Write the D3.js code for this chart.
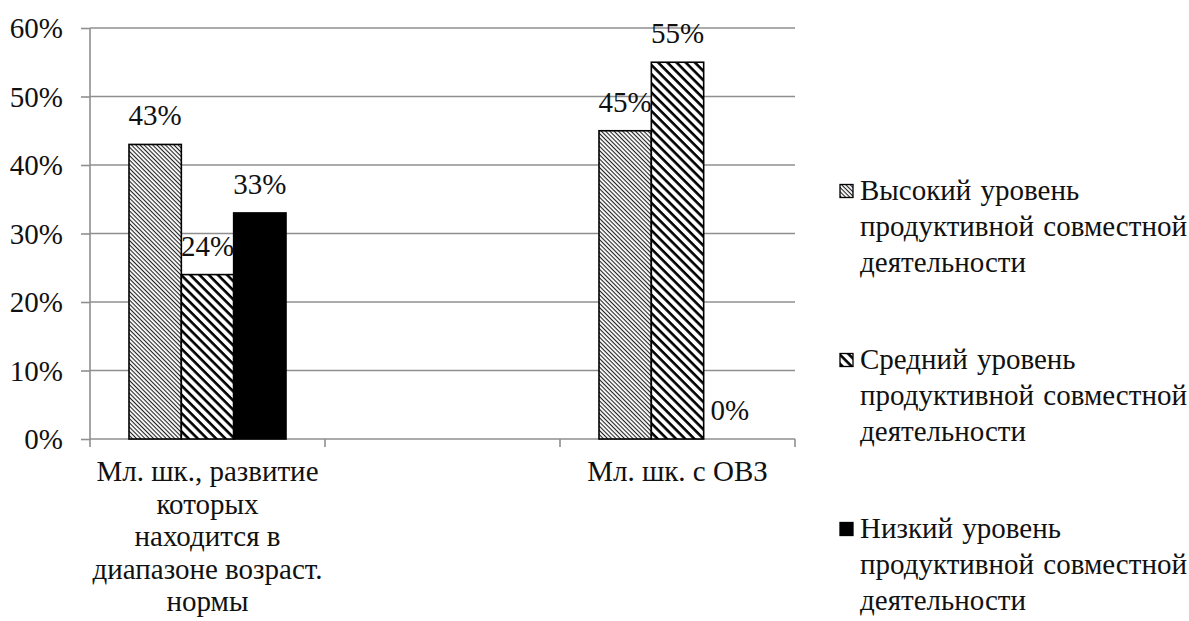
<!DOCTYPE html>
<html><head><meta charset="utf-8">
<script src="https://cdn.jsdelivr.net/npm/d3@7"></script>
<style>
html,body{margin:0;padding:0;background:#fff;}
svg{display:block;}
svg text, svg tspan{font-family:'Liberation Serif', Tinos, 'Times New Roman', serif !important;}
</style>
</head><body>
<svg id="chart" width="1189" height="621"></svg>
<script>
// ---- data ----
const categories = ["cat1", "gap", "cat2"];
const categoryLabels = [
  ["Мл. шк., развитие", "которых", "находится в", "диапазоне возраст.", "нормы"],
  [],
  ["Мл. шк. с ОВЗ"]
];
const seriesNames = [
  ["Высокий уровень", "продуктивной совместной", "деятельности"],
  ["Средний уровень", "продуктивной совместной", "деятельности"],
  ["Низкий уровень", "продуктивной совместной", "деятельности"]
];
const seriesKeys = ["high", "mid", "low"];
const highValues = [0.43, null, 0.45];
const midValues  = [0.24, null, 0.55];
const lowValues  = [0.33, null, 0.00];
const yTicks = [0, 0.1, 0.2, 0.3, 0.4, 0.5, 0.6];

const seriesValues = [highValues, midValues, lowValues];

const FONT = "'Liberation Serif', Tinos, 'Times New Roman', serif";
const fontSize = 29;
const svg = d3.select("#chart");
const defs = svg.append("defs");

function setFont(sel) {
  return sel.attr("font-family", FONT).style("font-family", FONT, "important")
    .attr("font-size", fontSize).attr("fill", "#111");
}

// hatch patterns
function hatch(id, spacing, lw, color) {
  const p = defs.append("pattern").attr("id", id)
    .attr("patternUnits", "userSpaceOnUse")
    .attr("width", spacing).attr("height", spacing)
    .attr("patternTransform", "rotate(45)");
  p.append("rect").attr("width", spacing).attr("height", spacing).attr("fill", "#fff");
  p.append("rect").attr("x", 0).attr("y", 0).attr("width", spacing).attr("height", lw).attr("fill", color);
}
hatch("pHigh", 3, 1.1, "#222");
hatch("pMid", 6.5, 2.6, "#000");
const fills = ["url(#pHigh)", "url(#pMid)", "#000"];

const mLeft = 90, mRight = 795, mTop = 28, mBottom = 439;
const y = d3.scaleLinear().domain([0, 0.6]).range([mBottom, mTop]);
const x0 = d3.scaleBand().domain(categories).range([mLeft, mRight]).paddingInner(0).paddingOuter(0);
const x1 = d3.scaleBand().domain(seriesKeys).range([39, 196]).padding(0);

const grid = "#8f8f8f";

// gridlines
svg.append("g").selectAll("line").data(yTicks).join("line")
  .attr("x1", mLeft).attr("x2", mRight)
  .attr("y1", d => y(d)).attr("y2", d => y(d))
  .attr("stroke", grid).attr("stroke-width", 1.6);

// y-axis
const yAxis = d3.axisLeft(y).tickValues(yTicks).tickFormat(d3.format(".0%")).tickSize(9).tickPadding(18);
const gy = svg.append("g").attr("transform", `translate(${mLeft},0)`).call(yAxis);
gy.attr("font-family", FONT).attr("font-size", fontSize);
gy.select(".domain").remove();
gy.selectAll(".tick line").attr("stroke", grid).attr("stroke-width", 1.6);
setFont(gy.selectAll(".tick text")).attr("dy", "0.34em");
svg.append("line").attr("x1", mLeft).attr("x2", mLeft).attr("y1", mTop).attr("y2", mBottom + 8)
  .attr("stroke", grid).attr("stroke-width", 1.6);

// x-axis ticks at band boundaries
const boundaries = categories.map(c => x0(c)).concat([x0(categories[categories.length - 1]) + x0.bandwidth()]);
svg.append("g").selectAll("line").data(boundaries.slice(1)).join("line")
  .attr("x1", d => d).attr("x2", d => d).attr("y1", mBottom).attr("y2", mBottom + 8)
  .attr("stroke", grid).attr("stroke-width", 1.6);

// bars
const barData = [];
categories.forEach((c, ci) => {
  seriesKeys.forEach((k, si) => {
    const v = seriesValues[si][ci];
    if (v !== null) barData.push({c, k, si, v});
  });
});
svg.append("g").selectAll("rect").data(barData.filter(d => d.v > 0)).join("rect")
  .attr("x", d => x0(d.c) + x1(d.k))
  .attr("y", d => y(d.v))
  .attr("width", x1.bandwidth())
  .attr("height", d => y(0) - y(d.v))
  .attr("fill", d => fills[d.si])
  .attr("stroke", "#000").attr("stroke-width", 1.6);

// value labels
setFont(svg.append("g").selectAll("text").data(barData).join("text"))
  .attr("x", d => x0(d.c) + x1(d.k) + x1.bandwidth() / 2)
  .attr("y", d => y(d.v) - 19)
  .attr("text-anchor", "middle")
  .text(d => d3.format(".0%")(d.v));

// category labels
categories.forEach((c, ci) => {
  const lines = categoryLabels[ci];
  const t = setFont(svg.append("text")).attr("text-anchor", "middle");
  lines.forEach((ln, i) => {
    t.append("tspan").attr("x", x0(c) + x1("mid") + x1.bandwidth() / 2).attr("y", 481 + i * 32.6).text(ln);
  });
});

// legend
const lg = svg.append("g");
seriesNames.forEach((lines, i) => {
  const ty = 184.5 + i * 169;
  lg.append("rect").attr("x", 840).attr("y", ty).attr("width", 13).attr("height", 13)
    .attr("fill", fills[i]).attr("stroke", "#000").attr("stroke-width", 1.3);
  const t = setFont(lg.append("text")).style("word-spacing", "2px");
  lines.forEach((ln, j) => {
    t.append("tspan").attr("x", 860).attr("y", ty + 15 + j * 36).text(ln);
  });
});
</script>
</body></html>
